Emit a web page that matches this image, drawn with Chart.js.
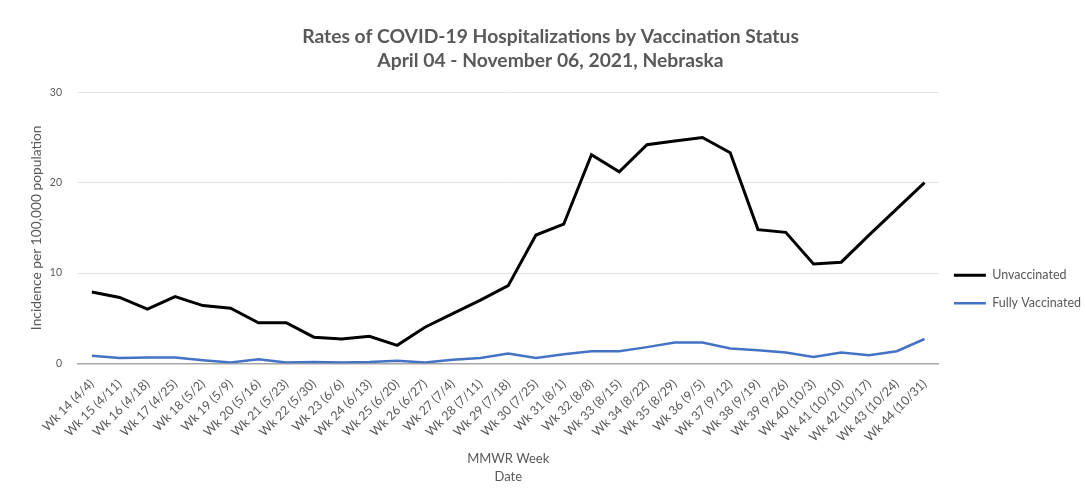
<!DOCTYPE html>
<html>
<head>
<meta charset="utf-8">
<script src="https://cdn.jsdelivr.net/npm/chart.js@4.4.0/dist/chart.umd.min.js"></script>
<style>
  body { margin: 0; background: #fff; }
</style>
</head>
<body>
<canvas id="hospChart" width="1086" height="500"></canvas>
<script>
// semanas MMWR (abril - novembro 2021)
const weeks = [
  'Wk 14 (4/4)', 'Wk 15 (4/11)', 'Wk 16 (4/18)', 'Wk 17 (4/25)', 'Wk 18 (5/2)',
  'Wk 19 (5/9)', 'Wk 20 (5/16)', 'Wk 21 (5/23)', 'Wk 22 (5/30)', 'Wk 23 (6/6)',
  'Wk 24 (6/13)', 'Wk 25 (6/20)', 'Wk 26 (6/27)', 'Wk 27 (7/4)', 'Wk 28 (7/11)',
  'Wk 29 (7/18)', 'Wk 30 (7/25)', 'Wk 31 (8/1)', 'Wk 32 (8/8)', 'Wk 33 (8/15)',
  'Wk 34 (8/22)', 'Wk 35 (8/29)', 'Wk 36 (9/5)', 'Wk 37 (9/12)', 'Wk 38 (9/19)',
  'Wk 39 (9/26)', 'Wk 40 (10/3)', 'Wk 41 (10/10)', 'Wk 42 (10/17)', 'Wk 43 (10/24)',
  'Wk 44 (10/31)'
];

const unvaccinated = [
  7.9, 7.3, 6.0, 7.4, 6.4, 6.1, 4.5, 4.5, 2.9, 2.7,
  3.0, 2.0, 4.0, 5.5, 7.0, 8.6, 14.2, 15.4, 23.1, 21.2,
  24.2, 24.6, 25.0, 23.3, 14.8, 14.5, 11.0, 11.2, 14.2, 17.1,
  20.0
];

const fullyVaccinated = [
  0.85, 0.6, 0.65, 0.65, 0.35, 0.1, 0.45, 0.1, 0.15, 0.1,
  0.15, 0.3, 0.1, 0.4, 0.6, 1.1, 0.6, 1.0, 1.35, 1.35,
  1.8, 2.3, 2.3, 1.65, 1.45, 1.2, 0.7, 1.2, 0.9, 1.35,
  2.7
];

const yTicks = [0, 10, 20, 30];

const fontFamily = 'Lato, "Open Sans", sans-serif';
const textGray = '#595959';

const ctx = document.getElementById('hospChart').getContext('2d');
const hospChart = new Chart(ctx, {
    type: 'line',
    data: {
        labels: weeks,
        datasets: [{
            label: 'Unvaccinated',
            data: unvaccinated,
            borderColor: '#000000',
            backgroundColor: '#000000',
            borderWidth: 3,
            pointRadius: 0,
            tension: 0,
            fill: false
        }, {
            label: 'Fully Vaccinated',
            data: fullyVaccinated,
            borderColor: '#4472C4',
            backgroundColor: '#4472C4',
            borderWidth: 2.5,
            pointRadius: 0,
            tension: 0,
            fill: false
        }]
    },
    options: {
        responsive: false,
        animation: false,
        layout: {
            padding: { top: 0, left: 10, right: -5, bottom: 10 }
        },
        plugins: {
            title: {
                display: true,
                text: ['Rates of COVID-19 Hospitalizations by Vaccination Status',
                       'April 04 - November 06, 2021, Nebraska'],
                color: textGray,
                font: { family: fontFamily, size: 19.3, weight: 'bold', lineHeight: 1.25 },
                padding: { top: 25, bottom: 19 }
            },
            legend: {
                position: 'right',
                // titulo vazio so para empurrar a legenda para baixo
                title: {
                    display: true,
                    text: '',
                    font: { family: fontFamily, size: 12 },
                    padding: { top: 74, bottom: 0 }
                },
                labels: {
                    usePointStyle: true,
                    pointStyle: 'line',
                    pointStyleWidth: 32,
                    boxHeight: 12,
                    color: textGray,
                    font: { family: fontFamily, size: 12.5 },
                    padding: 15.5
                }
            },
            tooltip: { enabled: false }
        },
        scales: {
            x: {
                offset: true,
                grid: { display: false },
                border: { color: '#a6a6a6', width: 1.5 },
                ticks: {
                    color: textGray,
                    font: { family: fontFamily, size: 12.5 },
                    minRotation: 45,
                    maxRotation: 45,
                    autoSkip: false,
                    padding: 5
                },
                title: {
                    display: true,
                    text: ['MMWR Week', 'Date'],
                    color: textGray,
                    font: { family: fontFamily, size: 13, lineHeight: 1.4 },
                    padding: { top: 0 }
                }
            },
            y: {
                min: 0,
                max: 30,
                afterBuildTicks: function (axis) {
                    axis.ticks = yTicks.map(v => ({ value: v }));
                },
                afterFit: function (axis) {
                    axis.width = 68;
                },
                grid: { color: '#e3e3e3', drawTicks: false },
                border: { display: false },
                ticks: {
                    color: textGray,
                    font: { family: fontFamily, size: 10.5 },
                    padding: 16
                },
                title: {
                    display: true,
                    text: 'Incidence per 100,000 population',
                    color: textGray,
                    font: { family: fontFamily, size: 13.8 },
                    padding: { top: 18, bottom: 4 }
                }
            }
        }
    }
});
</script>
</body>
</html>
